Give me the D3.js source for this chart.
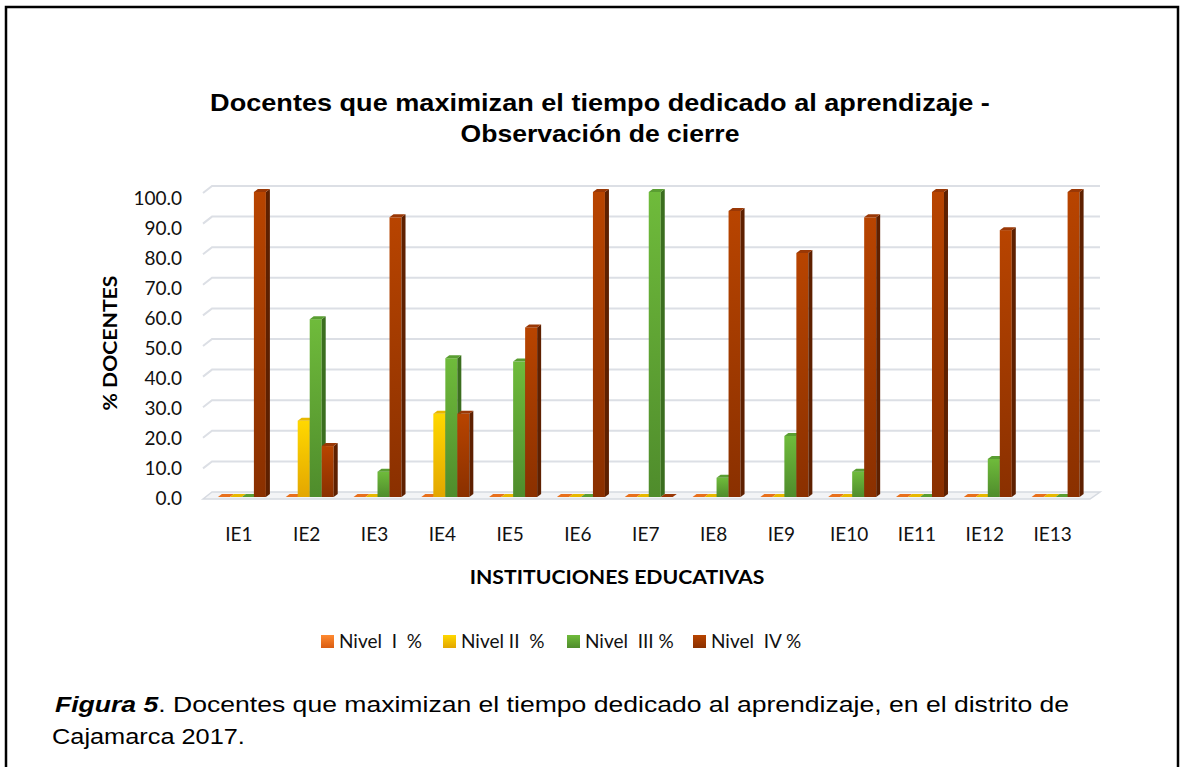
<!DOCTYPE html>
<html><head><meta charset="utf-8">
<script src="https://cdn.jsdelivr.net/npm/d3@7"></script>
<style>
html,body{margin:0;padding:0;background:#fff;}
svg{display:block;}
</style>
</head><body>
<svg id="chart" width="1182" height="767"></svg>
<script>
const categories = ["IE1","IE2","IE3","IE4","IE5","IE6","IE7","IE8","IE9","IE10","IE11","IE12","IE13"];
const seriesNames = ["Nivel  I  %","Nivel II  %","Nivel  III %","Nivel  IV %"];
const nivel1 = [0,0,0,0,0,0,0,0,0,0,0,0,0];
const nivel2 = [0,25,0,27.3,0,0,0,0,0,0,0,0,0];
const nivel3 = [0,58.3,8.3,45.5,44.4,0,100,6.3,20,8.3,0,12.5,0];
const nivel4 = [100,16.7,91.7,27.3,55.6,100,0,93.8,80,91.7,100,87.5,100];
const yTicks = [0,10,20,30,40,50,60,70,80,90,100];
const titleLines = ["Docentes que maximizan el tiempo dedicado al aprendizaje -","Observación de cierre"];
const yTitle = "% DOCENTES";
const xTitle = "INSTITUCIONES EDUCATIVAS";
const captionBold = "Figura 5";
const captionLine1 = ". Docentes que maximizan el tiempo dedicado al aprendizaje, en el distrito de";
const captionLine2 = "Cajamarca 2017.";

const series = [nivel1, nivel2, nivel3, nivel4];
const colors = [
  {top:"#ff8a30", bot:"#d95c12", side:"#a84408", cap:"#e8701c"},
  {top:"#ffd800", bot:"#e3a600", side:"#b88400", cap:"#e8b800"},
  {top:"#6fbb3b", bot:"#4f8c2c", side:"#3b6e1f", cap:"#5a9e32"},
  {top:"#b84400", bot:"#8a3000", side:"#5e2000", cap:"#9a3806"}
];

const svg = d3.select("#chart");
const defs = svg.append("defs");
colors.forEach((c,i)=>{
  const g = defs.append("linearGradient").attr("id","g"+i).attr("x1",0).attr("y1",0).attr("x2",0).attr("y2",1);
  g.append("stop").attr("offset","0%").attr("stop-color",c.top);
  g.append("stop").attr("offset","100%").attr("stop-color",c.bot);
});

function fit(sel, px, py, target, extra) {
  const w = sel.node().getComputedTextLength();
  const sx = target / w;
  sel.attr("x",0).attr("y",0).attr("transform",`translate(${px},${py}) ${extra||""} scale(${sx},1)`);
}

// Outer frame
svg.append("path").attr("d","M6,767 V7 H1178 V767").attr("fill","none").attr("stroke","#000").attr("stroke-width",2.5);
svg.append("line").attr("x1",1178).attr("x2",1178).attr("y1",7).attr("y2",767).attr("stroke","#000").attr("stroke-width",1.5);

const x = d3.scaleBand().domain(categories).range([205,1086.5]);
const y = d3.scaleLinear().domain([0,100]).range([497,192]);
const yBack = d3.scaleLinear().domain([0,100]).range([492,186]);
const yLab = d3.scaleLinear().domain([0,100]).range([498,198]);

// Title
const titleLen = [780, 279];
titleLines.forEach((t,i)=>{
  const tt = svg.append("text").attr("text-anchor","middle")
    .style("font-family","'Liberation Sans', Arial, sans-serif").style("font-weight","bold").style("font-size","23px").attr("fill","#000").text(t);
  fit(tt, 600, 111+i*31, titleLen[i]);
});

// Gridlines (back wall)
const grid = svg.append("g");
yTicks.filter(v=>v>0).forEach(v=>{
  const yb = yBack(v);
  grid.append("path").attr("d",`M203,${yb+7} L212,${yb} L1100,${yb}`).attr("fill","none").attr("stroke","#dcdfe5").attr("stroke-width",2);
});
// floor
svg.append("path").attr("d",`M203,${y(0)+2} L212,${yBack(0)} L1100,${yBack(0)} L1090,${y(0)+2} Z`)
  .attr("fill","#f3f4f6").attr("stroke","#d6dae1").attr("stroke-width",1.5);

// Y axis labels
const yAxis = d3.axisLeft(yLab).tickValues(yTicks).tickFormat(d3.format(".1f")).tickSize(0).tickPadding(0);
const ya = svg.append("g").attr("transform","translate(182,0)").call(yAxis);
ya.select(".domain").remove();
ya.selectAll("text").style("font-family","Lato, 'Open Sans', sans-serif").style("font-size","19px").attr("fill","#111");

// Bars
const bw = 12, dx = 4, dy = 3;
const bars = svg.append("g");
categories.forEach((cat,ci)=>{
  const cx = x(cat) + x.bandwidth()/2 + 3;
  series.forEach((s,si)=>{
    const v = s[ci];
    const x0 = cx - 24 + si*bw;
    const yt = y(v), yb = y(0);
    const c = colors[si];
    if (v > 0) {
      bars.append("rect").attr("x",x0).attr("y",yt).attr("width",bw).attr("height",yb-yt).attr("fill",`url(#g${si})`);
      bars.append("path").attr("d",`M${x0+bw},${yt} L${x0+bw+dx},${yt-dy} L${x0+bw+dx},${yb-dy} L${x0+bw},${yb} Z`).attr("fill",c.side);
    }
    bars.append("path").attr("d",`M${x0},${yt} L${x0+dx},${yt-dy} L${x0+bw+dx},${yt-dy} L${x0+bw},${yt} Z`).attr("fill",c.cap);
  });
});

// X labels
const xAxis = d3.axisBottom(x).tickSize(0).tickPadding(0);
const xa = svg.append("g").attr("transform","translate(0,527)").call(xAxis);
xa.select(".domain").remove();
xa.selectAll("text").style("font-family","Lato, 'Open Sans', sans-serif").style("font-size","19px").attr("fill","#111");

// Axis titles
const ytl = svg.append("text").attr("text-anchor","middle")
  .style("font-family","Lato, 'Open Sans', sans-serif").style("font-weight","bold").style("font-size","19px").attr("fill","#000").text(yTitle);
fit(ytl, 117, 343, 135, "rotate(-90)");
const xtl = svg.append("text").attr("text-anchor","middle")
  .style("font-family","Lato, 'Open Sans', sans-serif").style("font-weight","bold").style("font-size","19px").attr("fill","#000").text(xTitle);
fit(xtl, 617, 584, 295);

// Legend
const legX = [321, 443, 567, 693];
const leg = svg.append("g");
seriesNames.forEach((n,i)=>{
  leg.append("rect").attr("x",legX[i]).attr("y",635).attr("width",13).attr("height",13).attr("fill",`url(#g${i})`);
  leg.append("text").attr("x",legX[i]+18).attr("y",648).style("white-space","pre").attr("xml:space","preserve")
    .style("font-family","Lato, 'Open Sans', sans-serif").style("font-size","19px").attr("fill","#111").text(n);
});

// Caption
const cap = svg.append("text")
  .style("font-family","'Liberation Sans', Arial, sans-serif").style("font-size","22px").attr("fill","#000");
cap.append("tspan").style("font-weight","bold").style("font-style","italic").text(captionBold);
cap.append("tspan").text(captionLine1);
fit(cap, 55, 712, 1015);
const cap2 = svg.append("text")
  .style("font-family","'Liberation Sans', Arial, sans-serif").style("font-size","22px").attr("fill","#000").text(captionLine2);
fit(cap2, 52, 744, 193);
</script>
</body></html>
